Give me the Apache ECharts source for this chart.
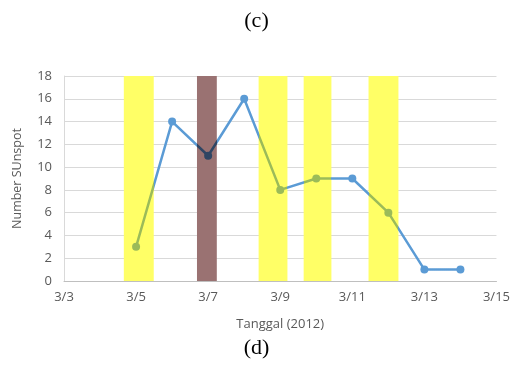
<!DOCTYPE html>
<html><head><meta charset="utf-8">
<script src="https://cdn.jsdelivr.net/npm/echarts@6/dist/echarts.min.js"></script>
<style>html,body{margin:0;padding:0;background:#fff;}#c{width:513px;height:371px;}</style>
</head><body><div id="c"></div>
<script>
// Days of March 2012
var days = [5, 6, 7, 8, 9, 10, 11, 12, 13, 14];
var sunspots = [3, 14, 11, 16, 8, 9, 9, 6, 1, 1];
var xTicks = [3, 5, 7, 9, 11, 13, 15];
// Highlight bands [start, end]
var yellowBands = [[4.66, 5.49], [8.4, 9.2], [9.65, 10.42], [11.45, 12.28]];
var brownBands = [[6.69, 7.24]];

var chart = echarts.init(document.getElementById('c'));
var pts = days.map(function (d, i) { return [d, sunspots[i]]; });
var areas = [];
yellowBands.forEach(function (b) {
  areas.push([{ xAxis: b[0], itemStyle: { color: '#ffff66' } }, { xAxis: b[1] }]);
});
brownBands.forEach(function (b) {
  areas.push([{ xAxis: b[0], itemStyle: { color: '#9a7272' } }, { xAxis: b[1] }]);
});
var pieces = [];
yellowBands.forEach(function (b) { pieces.push({ gte: b[0], lte: b[1], color: '#9bbb59' }); });
brownBands.forEach(function (b) { pieces.push({ gte: b[0], lte: b[1], color: '#2f4563' }); });

chart.setOption({
  animation: false,
  title: [
    { text: '(c)', left: 'center', top: 5, textStyle: { fontFamily: 'Liberation Serif', fontSize: 22, fontWeight: 'normal', color: '#000' } },
    { text: '(d)', left: 'center', top: 332, textStyle: { fontFamily: 'Liberation Serif', fontSize: 22, fontWeight: 'normal', color: '#000' } }
  ],
  grid: { left: 64, right: 16, top: 76, bottom: 90 },
  xAxis: {
    type: 'value', min: 3, max: 15, interval: 2,
    name: 'Tanggal (2012)', nameLocation: 'middle', nameGap: 37,
    nameTextStyle: { fontFamily: 'Open Sans', fontSize: 13, color: '#595959' },
    axisLine: { show: true, lineStyle: { color: '#bfbfbf' } },
    axisTick: { show: false },
    splitLine: { show: false },
    axisLabel: { fontFamily: 'Open Sans', fontSize: 13, color: '#595959', margin: 10,
      formatter: function (v) { return xTicks.indexOf(v) >= 0 ? '3/' + v : ''; } }
  },
  yAxis: {
    type: 'value', min: 0, max: 18, interval: 2,
    name: 'Number SUnspot', nameLocation: 'middle', nameGap: 40,
    nameTextStyle: { fontFamily: 'Open Sans', fontSize: 12.5, color: '#595959' },
    axisLine: { show: true, lineStyle: { color: '#d9d9d9' } },
    axisTick: { show: false },
    splitLine: { lineStyle: { color: '#d9d9d9' } },
    axisLabel: { fontFamily: 'Open Sans', fontSize: 13, color: '#595959', margin: 12 }
  },
  visualMap: {
    show: false, type: 'piecewise', dimension: 0, seriesIndex: 0,
    pieces: pieces, outOfRange: { color: '#5b9bd5' }
  },
  series: [
    {
      type: 'line', data: pts, z: 5,
      symbol: 'circle', symbolSize: 8,
      lineStyle: { width: 2.5 },
      silent: true
    },
    {
      type: 'line', data: [], z: 1, silent: true,
      markArea: { silent: true, data: areas }
    }
  ]
});
</script>
</body></html>
